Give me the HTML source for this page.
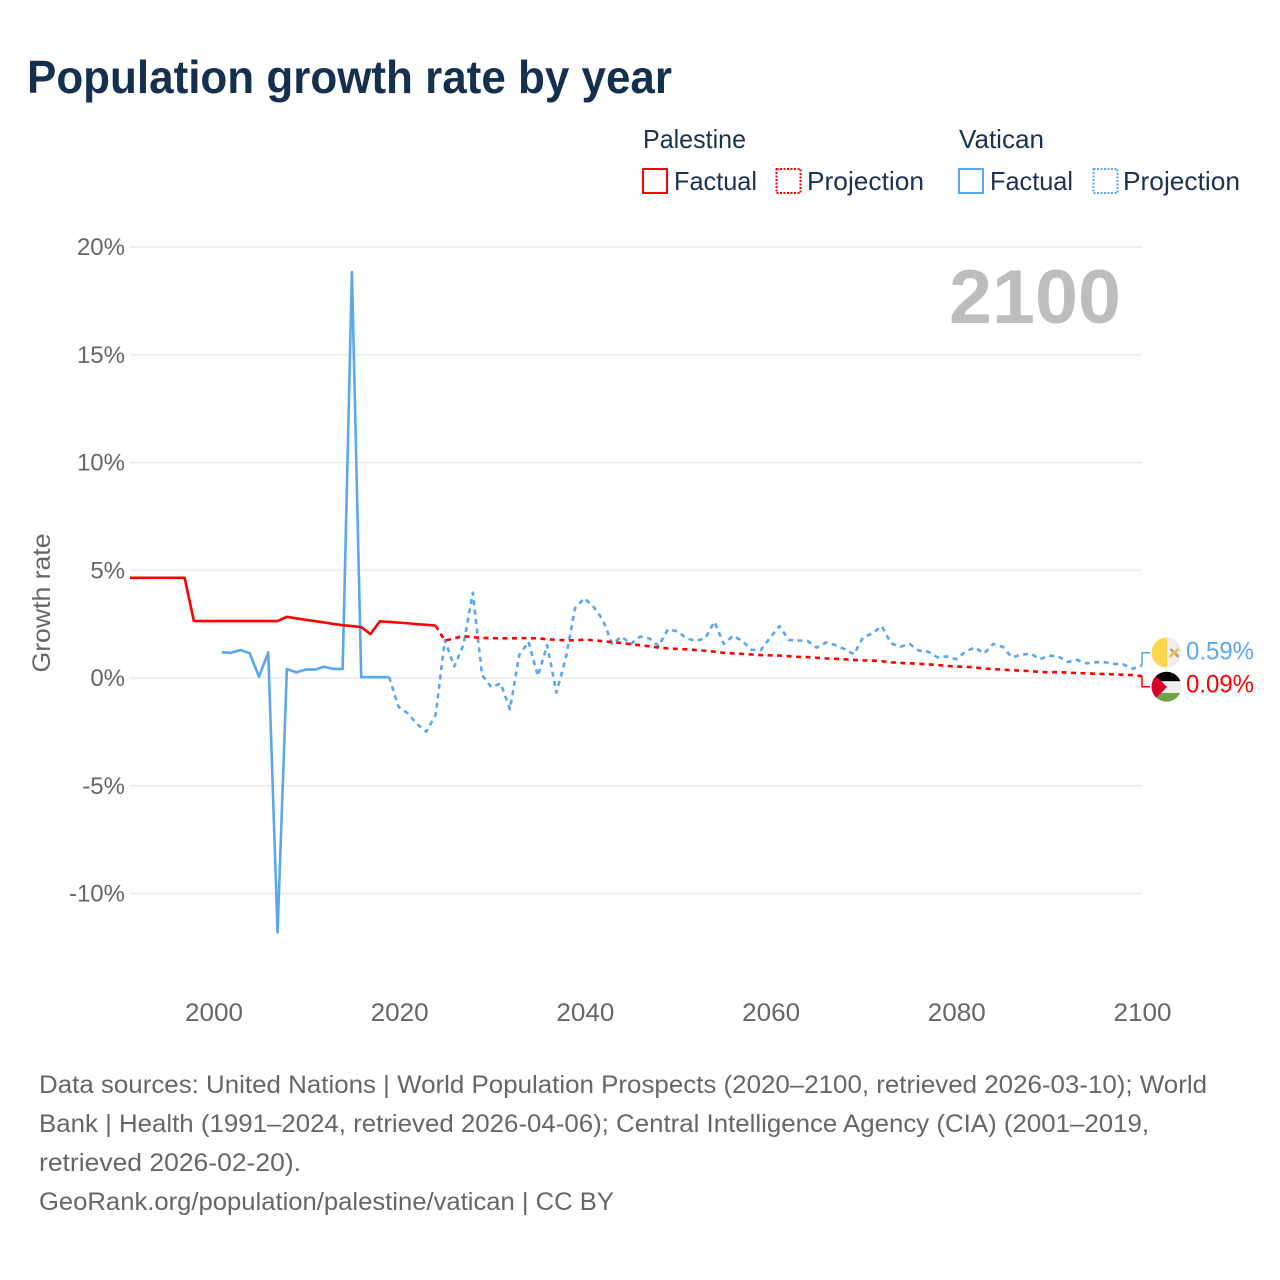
<!DOCTYPE html>
<html lang="en">
<head>
<meta charset="utf-8">
<title>Population growth rate by year</title>
<style>
html,body{margin:0;padding:0;background:#fff;width:1280px;height:1280px;overflow:hidden}
svg{display:block}
text{font-family:"Liberation Sans",sans-serif}
</style>
</head>
<body>
<svg id="chart" xmlns="http://www.w3.org/2000/svg" width="1280" height="1280" viewBox="0 0 1280 1280">
  <rect width="1280" height="1280" fill="#fff"/>
  <text x="27" y="93" font-size="46" font-weight="700" fill="#15304f" textLength="645" lengthAdjust="spacingAndGlyphs">Population growth rate by year</text>

  <g font-size="26" fill="#1a3150">
    <text x="643" y="148" textLength="103" lengthAdjust="spacingAndGlyphs">Palestine</text>
    <text x="959" y="148" textLength="85" lengthAdjust="spacingAndGlyphs">Vatican</text>
    <rect x="643" y="169" width="24" height="24" fill="none" stroke="#ff0000" stroke-width="2"/>
    <text x="674" y="190" textLength="83" lengthAdjust="spacingAndGlyphs">Factual</text>
    <rect x="776.500" y="169" width="24" height="24" fill="none" stroke="#ff0000" stroke-width="2" stroke-dasharray="2 1.500"/>
    <text x="807" y="190" textLength="117" lengthAdjust="spacingAndGlyphs">Projection</text>
    <rect x="959" y="169" width="24" height="24" fill="none" stroke="#5ba7ee" stroke-width="2"/>
    <text x="990" y="190" textLength="83" lengthAdjust="spacingAndGlyphs">Factual</text>
    <rect x="1093.500" y="169" width="24" height="24" fill="none" stroke="#5ba7ee" stroke-width="2" stroke-dasharray="2 1.500"/>
    <text x="1123" y="190" textLength="117" lengthAdjust="spacingAndGlyphs">Projection</text>
  </g>

  <g id="grid"></g>
  <g id="yticks" font-size="24" fill="#666"></g>
  <g id="xticks" font-size="25" fill="#666"></g>
  <text transform="translate(50 603) rotate(-90)" text-anchor="middle" font-size="25" fill="#666" textLength="139" lengthAdjust="spacingAndGlyphs">Growth rate</text>
  <text x="949" y="323" font-size="76" font-weight="700" fill="#bdbdbd" textLength="172" lengthAdjust="spacingAndGlyphs">2100</text>

  <defs>
    <clipPath id="clip-plot"><rect x="130" y="200" width="1014" height="800"/></clipPath>
    <clipPath id="clip-vatican"><circle cx="1166.500" cy="652.500" r="15"/></clipPath>
    <clipPath id="clip-palestine"><circle cx="1166.500" cy="686.700" r="15"/></clipPath>
  </defs>
  <g id="series" fill="none" stroke-width="2.600" clip-path="url(#clip-plot)"></g>
  <g id="callouts" fill="none" stroke-width="1.500"></g>

  <g clip-path="url(#clip-vatican)">
    <rect x="1151" y="637" width="16" height="32" fill="#fcd64b"/>
    <rect x="1167" y="637" width="16" height="32" fill="#eeeeee"/>
    <path d="M1170.500 649l8 8" stroke="#a0a0a0" stroke-width="2.600" fill="none"/>
    <path d="M1169.500 657l9-8" stroke="#f2c230" stroke-width="2.600" fill="none"/>
  </g>
  <g clip-path="url(#clip-palestine)">
    <rect x="1151" y="671" width="32" height="10.300" fill="#000"/>
    <rect x="1151" y="681.300" width="32" height="11.700" fill="#eeeeee"/>
    <rect x="1151" y="693" width="32" height="10" fill="#6da544"/>
    <path d="M1151 671L1167 687L1151 703Z" fill="#d80027"/>
  </g>
  <text x="1186" y="659.500" font-size="25" fill="#5ba7ee" textLength="68" lengthAdjust="spacingAndGlyphs">0.59%</text>
  <text x="1186" y="692.500" font-size="25" fill="#ff0000" textLength="68" lengthAdjust="spacingAndGlyphs">0.09%</text>

  <g font-size="25" fill="#666">
    <text x="39" y="1093" textLength="1168" lengthAdjust="spacingAndGlyphs">Data sources: United Nations | World Population Prospects (2020–2100, retrieved 2026-03-10); World</text>
    <text x="39" y="1132" textLength="1110" lengthAdjust="spacingAndGlyphs">Bank | Health (1991–2024, retrieved 2026-04-06); Central Intelligence Agency (CIA) (2001–2019,</text>
    <text x="39" y="1171" textLength="262" lengthAdjust="spacingAndGlyphs">retrieved 2026-02-20).</text>
    <text x="39" y="1210" textLength="575" lengthAdjust="spacingAndGlyphs">GeoRank.org/population/palestine/vatican | CC BY</text>
  </g>
</svg>
<script>
const yTickValues = [20, 15, 10, 5, 0, -5, -10];
const yTickLabels = ["20%", "15%", "10%", "5%", "0%", "-5%", "-10%"];
const xTickValues = [2000, 2020, 2040, 2060, 2080, 2100];
const xTickLabels = ["2000", "2020", "2040", "2060", "2080", "2100"];

const palestineFactualStart = 1991;
const palestineFactual = [4.65,4.65,4.65,4.65,4.65,4.65,4.65,2.64,2.64,2.64,2.64,2.64,2.64,2.64,2.64,2.64,2.64,2.84,2.77,2.70,2.64,2.58,2.51,2.45,2.41,2.36,2.04,2.63,2.60,2.57,2.54,2.50,2.47,2.43];
const palestineProjectionStart = 2024;
const palestineProjection = [2.43,1.73,1.84,1.95,1.89,1.86,1.85,1.84,1.84,1.85,1.85,1.84,1.80,1.77,1.75,1.75,1.78,1.75,1.71,1.66,1.62,1.57,1.52,1.47,1.41,1.37,1.35,1.33,1.30,1.26,1.22,1.17,1.14,1.12,1.09,1.06,1.05,1.04,1.01,0.98,0.97,0.94,0.91,0.89,0.87,0.84,0.82,0.81,0.78,0.73,0.70,0.68,0.66,0.63,0.60,0.56,0.53,0.52,0.49,0.44,0.41,0.39,0.36,0.34,0.32,0.28,0.27,0.27,0.25,0.23,0.22,0.20,0.18,0.17,0.15,0.13,0.09];
const vaticanFactualStart = 2001;
const vaticanFactual = [1.19,1.17,1.30,1.15,0.06,1.19,-11.80,0.42,0.26,0.39,0.39,0.52,0.42,0.42,18.84,0.04,0.04,0.04,0.04];
const vaticanProjectionStart = 2019;
const vaticanProjection = [0.04,-1.33,-1.64,-2.14,-2.49,-1.72,1.76,0.53,1.53,3.96,0.14,-0.43,-0.25,-1.45,1.07,1.68,0.09,1.53,-0.68,0.91,3.23,3.70,3.31,2.69,1.58,1.92,1.58,1.92,1.84,1.48,2.26,2.17,1.84,1.72,1.84,2.61,1.58,1.96,1.72,1.30,1.30,1.88,2.41,1.76,1.74,1.72,1.41,1.65,1.53,1.34,1.10,1.89,2.07,2.41,1.61,1.45,1.58,1.27,1.22,0.96,1.00,0.87,1.22,1.42,1.14,1.58,1.45,0.96,1.07,1.14,0.87,1.04,1.00,0.74,0.84,0.68,0.73,0.73,0.66,0.63,0.43,0.59];

const NS = "http://www.w3.org/2000/svg";
const plotLeft = 130;
const plotRight = 1142;
function xScale(year) { return 212.5 + (year - 2000) * 9.295; }
function xTickScale(year) { return 214 + (year - 2000) * 9.285; }
function yScale(value) { return 678 - value * 21.55; }
function pointsFor(start, values) {
  return values.map(function (v, i) {
    return xScale(start + i).toFixed(2) + "," + yScale(v).toFixed(2);
  }).join(" ");
}

const grid = document.getElementById("grid");
const yticks = document.getElementById("yticks");
yTickValues.forEach(function (v, i) {
  const line = document.createElementNS(NS, "line");
  
  
  line.setAttribute("x1", plotLeft);
  line.setAttribute("x2", plotRight);
  line.setAttribute("y1", yScale(v));
  line.setAttribute("y2", yScale(v));
  line.setAttribute("stroke", "#ebebeb");
  line.setAttribute("stroke-width", "1.5");
  grid.appendChild(line);
  const t = document.createElementNS(NS, "text");
  
  
  t.setAttribute("x", 125);
  t.setAttribute("y", yScale(v) + 8);
  t.setAttribute("text-anchor", "end");
  t.textContent = yTickLabels[i];
  yticks.appendChild(t);
});

const xticks = document.getElementById("xticks");
xTickValues.forEach(function (v, i) {
  const t = document.createElementNS(NS, "text");
  
  
  t.setAttribute("x", xTickScale(v));
  t.setAttribute("y", 1021);
  t.setAttribute("text-anchor", "middle");
  t.setAttribute("textLength", "58");
  t.setAttribute("lengthAdjust", "spacingAndGlyphs");
  t.textContent = xTickLabels[i];
  xticks.appendChild(t);
});

const series = document.getElementById("series");
function addLine(name, start, values, color, dash) {
  const p = document.createElementNS(NS, "polyline");
  
  
  p.setAttribute("points", pointsFor(start, values));
  p.setAttribute("stroke", color);
  p.setAttribute("stroke-linejoin", "round");
  if (dash) { p.setAttribute("stroke-dasharray", dash); }
  series.appendChild(p);
}
addLine("vatican-factual-line", vaticanFactualStart, vaticanFactual, "#5ba7ee", "");
addLine("vatican-projection-line", vaticanProjectionStart, vaticanProjection, "#5ba7ee", "5 4.5");
addLine("palestine-factual-line", palestineFactualStart, palestineFactual, "#ff0000", "");
addLine("palestine-projection-line", palestineProjectionStart, palestineProjection, "#ff0000", "5 4.5");

const callouts = document.getElementById("callouts");
function addCallout(name, value, targetY, color) {
  const p = document.createElementNS(NS, "polyline");
  
  
  const sx = xScale(2100);
  p.setAttribute("points", sx + "," + yScale(value).toFixed(2) + " " + sx + "," + targetY + " 1150," + targetY);
  p.setAttribute("stroke", color);
  callouts.appendChild(p);
}
const vaticanLast = vaticanProjection[vaticanProjection.length - 1];
const palestineLast = palestineProjection[palestineProjection.length - 1];
addCallout("vatican-callout-connector", vaticanLast, 652.7, "#5ba7ee");
addCallout("palestine-callout-connector", palestineLast, 686.7, "#ff0000");
</script>
</body>
</html>
